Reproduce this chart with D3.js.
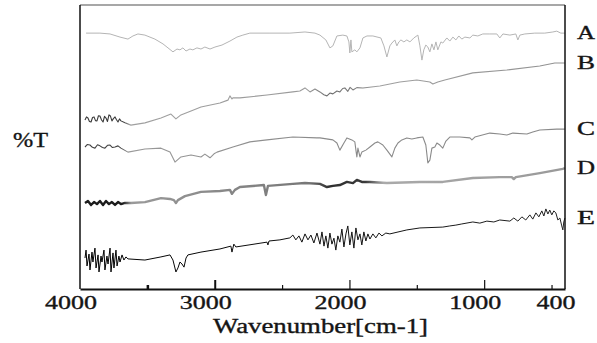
<!DOCTYPE html>
<html>
<head>
<meta charset="utf-8">
<script src="https://cdn.jsdelivr.net/npm/d3@7"></script>
<style>
  body { margin: 0; background: #fff; }
  text { font-family: "Liberation Serif", "DejaVu Serif", serif; fill: #151515; stroke: #151515; stroke-width: 0.35; }
</style>
</head>
<body>
<div id="chart"></div>
<script>
// FTIR spectra, [wavenumber, relative %T]
const specA = [[3955,90.1],[3852,90.1],[3777,89.8],[3703,88.7],[3644,88.0],[3607,89.1],[3570,89.8],[3518,89.4],
  [3444,88.0],[3384,86.3],[3347,84.9],[3310,83.5],[3280,84.5],[3258,84.2],[3236,84.9],[3213,83.8],[3184,84.5],
  [3162,84.2],[3132,84.9],[3102,84.5],[3073,85.2],[3035,84.5],[2998,85.2],[2946,85.9],[2887,87.3],[2835,88.7],
  [2791,89.4],[2739,90.1],[2590,90.1],[2442,90.1],[2330,90.5],[2256,90.1],[2219,89.4],[2175,87.7],[2145,84.9],
  [2123,85.6],[2093,89.1],[2049,89.4],[2019,89.1],[2004,87.0],[1997,83.1],[1989,87.7],[1982,83.5],[1960,84.2],
  [1945,83.5],[1922,84.9],[1900,88.4],[1870,89.1],[1826,89.1],[1767,88.4],[1744,85.6],[1722,81.7],[1700,85.6],
  [1685,86.6],[1663,87.7],[1648,85.6],[1633,87.0],[1618,87.7],[1596,87.0],[1574,87.7],[1551,87.0],[1522,88.4],
  [1492,89.4],[1477,85.6],[1462,80.6],[1448,84.2],[1433,85.9],[1418,85.2],[1403,83.5],[1388,86.3],[1373,84.2],
  [1358,87.0],[1344,84.2],[1321,87.0],[1307,86.6],[1277,88.4],[1255,87.3],[1232,88.7],[1210,87.7],[1188,89.1],
  [1166,88.0],[1143,88.7],[1106,88.4],[1084,89.4],[1047,89.1],[1010,89.8],[958,89.8],[906,89.8],[884,88.4],
  [861,89.8],[809,89.4],[765,89.8],[750,87.7],[735,89.4],[698,89.8],[624,90.1],[550,90.1],[490,90.5],[461,90.8],
  [431,90.1],[401,90.1]];

const specB = [[3963,59.5],[3952,60.6],[3941,60.2],[3930,59.0],[3918,58.8],[3907,60.4],[3896,60.6],[3885,59.3],
  [3874,59.2],[3863,61.0],[3852,60.9],[3840,59.5],[3829,58.8],[3818,60.8],[3807,60.2],[3796,59.0],[3785,61.3],
  [3774,60.9],[3763,59.2],[3752,60.0],[3740,60.6],[3729,59.6],[3718,58.8],[3707,59.9],[3696,59.2],[3666,58.5],
  [3622,57.7],[3518,58.5],[3399,60.2],[3325,61.6],[3288,59.9],[3251,61.3],[3176,62.7],[3102,64.1],[2961,65.5],
  [2902,66.5],[2887,68.0],[2872,66.9],[2865,67.3],[2813,67.3],[2612,68.3],[2420,69.4],[2368,69.7],[2330,70.8],
  [2293,69.4],[2256,70.4],[2219,69.4],[2190,68.4],[2167,68.0],[2145,69.0],[2123,68.7],[2093,69.7],[2071,69.4],
  [2050,70.6],[2034,70.8],[2012,69.6],[1995,71.0],[1974,70.1],[1945,70.9],[1900,70.8],[1774,71.5],[1626,72.9],
  [1500,73.6],[1403,72.9],[1381,72.2],[1344,72.9],[1292,73.6],[1084,76.1],[832,77.1],[587,78.5],[476,79.6],[401,79.6]];

const specC = [[3963,50.0],[3945,50.9],[3926,50.7],[3908,49.9],[3889,49.6],[3870,50.8],[3852,50.4],[3833,49.8],
  [3815,49.6],[3796,50.6],[3777,50.7],[3759,49.8],[3740,50.0],[3718,50.4],[3696,49.6],
  [3644,48.2],[3518,49.3],[3399,49.6],[3332,48.2],[3295,44.7],[3251,46.5],[3176,47.2],[3102,46.5],[3073,47.5],
  [3035,46.2],[3005,47.6],[2983,48.2],[2865,50.0],[2739,51.8],[2612,52.5],[2420,53.5],[2241,53.2],[2219,53.2],
  [2123,52.5],[2093,51.4],[2071,48.9],[2041,51.4],[2019,53.2],[1982,52.5],[1960,51.8],[1952,48.9],[1945,46.5],
  [1937,49.6],[1922,46.5],[1908,48.2],[1878,48.9],[1848,50.0],[1811,51.4],[1789,51.8],[1752,50.7],[1722,48.9],
  [1685,46.5],[1663,49.6],[1640,51.4],[1611,52.5],[1574,53.2],[1537,52.8],[1500,53.2],[1455,53.5],[1433,50.7],
  [1418,44.4],[1403,45.4],[1388,49.6],[1366,50.0],[1351,51.4],[1329,50.7],[1307,49.6],[1284,52.1],[1255,53.5],
  [1181,53.5],[1106,53.2],[1091,52.5],[1069,53.5],[958,54.9],[884,54.6],[832,54.2],[787,54.9],[683,54.6],
  [639,55.3],[587,56.0],[461,56.3],[401,56.3]];

const specD = [[3963,30.3],[3941,31.0],[3918,29.6],[3896,30.6],[3874,29.9],[3852,31.0],[3829,29.6],[3807,31.0],
  [3785,29.9],[3763,30.6],[3740,29.6],[3718,30.6],[3696,29.9],[3666,30.3],[3622,30.3],[3518,30.6],[3399,32.0],
  [3332,31.7],[3303,31.3],[3288,30.3],[3273,31.3],[3221,32.7],[3102,34.2],[2961,34.5],[2887,34.9],[2872,33.5],
  [2850,34.9],[2813,35.9],[2635,36.6],[2620,33.1],[2605,36.3],[2420,37.0],[2330,37.3],[2219,37.0],[2167,35.9],
  [2123,36.3],[2071,36.6],[2019,37.7],[1974,37.3],[1945,38.4],[1908,37.7],[1848,37.7],[1722,37.3],[1477,37.7],
  [1307,37.7],[1084,39.1],[884,39.4],[795,39.4],[780,38.7],[765,39.4],[587,40.8],[416,42.3],[401,42.6]];

const specE = [[3963,10.9],[3955,13.7],[3948,8.1],[3933,12.3],[3926,6.7],[3911,13.0],[3904,9.5],[3889,14.4],
  [3881,7.4],[3866,12.0],[3859,6.0],[3844,11.6],[3837,9.5],[3822,13.7],[3815,6.7],[3800,11.6],[3792,8.8],
  [3777,14.4],[3770,6.0],[3755,12.7],[3748,7.4],[3733,13.7],[3725,8.1],[3711,11.6],[3703,9.5],[3688,12.0],
  [3674,10.2],[3659,11.3],[3644,10.6],[3518,10.2],[3399,11.3],[3332,12.0],[3310,10.2],[3288,6.0],[3273,7.4],
  [3258,9.5],[3243,8.8],[3228,7.7],[3213,10.9],[3199,12.0],[3102,13.0],[2961,14.1],[2880,15.1],[2872,13.0],
  [2858,15.8],[2843,14.8],[2612,16.5],[2605,15.5],[2597,16.9],[2516,17.3],[2442,18.0],[2420,19.0],[2398,17.3],
  [2375,18.7],[2353,16.5],[2330,19.4],[2308,17.3],[2286,19.0],[2264,16.2],[2241,19.7],[2219,15.8],[2204,20.1],
  [2189,15.1],[2175,18.7],[2160,14.4],[2145,19.7],[2130,15.8],[2115,17.9],[2101,13.7],[2086,18.7],[2071,16.5],
  [2056,21.1],[2041,14.8],[2026,19.4],[2012,22.2],[1997,15.5],[1982,20.1],[1967,14.4],[1952,21.5],[1937,17.3],
  [1922,19.4],[1908,15.5],[1893,20.1],[1878,16.9],[1863,19.4],[1848,17.6],[1826,19.4],[1804,18.0],[1781,19.7],
  [1759,18.7],[1730,19.7],[1700,19.4],[1574,20.8],[1477,21.5],[1307,21.8],[1255,22.2],[1210,22.5],[1166,22.9],
  [1084,23.6],[1032,23.2],[980,23.9],[928,23.6],[884,24.3],[809,23.9],[780,25.0],[750,23.9],[720,25.4],[691,24.3],
  [661,26.1],[639,24.6],[616,26.8],[594,25.4],[572,27.5],[557,25.7],[542,28.2],[527,26.4],[513,27.8],[498,26.1],
  [483,27.5],[468,26.8],[453,24.3],[438,25.0],[424,22.2],[416,20.8],[409,23.6],[401,25.0]];

const sampleNames = ["A", "B", "C", "D", "E"];
const majorTicks = [4000, 3000, 2000, 1000, 400];
const minorTicks = [3500, 3000, 2500, 2000, 1500, 1000, 500];

const width = 597, height = 343;
const margin = { top: 5, right: 32, bottom: 54, left: 80 };
const w = width - margin.left - margin.right;
const h = height - margin.top - margin.bottom;

const svg = d3.select('#chart').append('svg')
  .attr('width', width)
  .attr('height', height);

const x = d3.scaleLinear().domain([4000, 400]).range([0, w]);
const y = d3.scaleLinear().domain([0, 100]).range([h, 0]);

const defs = svg.append('defs');
defs.append('filter').attr('id', 'soft')
  .attr('x', '-5%').attr('y', '-50%').attr('width', '110%').attr('height', '200%')
  .append('feGaussianBlur').attr('stdDeviation', 0.7);

// trace shading along wavenumber: [wavenumber, colour]
const shades = {
  A: [[4000, '#b4b4b4'], [400, '#b4b4b4']],
  B: [[4000, '#3a3a3a'], [3680, '#3a3a3a'], [3630, '#a0a0a0'], [2300, '#9a9a9a'], [2150, '#6a6a6a'],
      [1950, '#808080'], [1800, '#a0a0a0'], [400, '#909090']],
  C: [[4000, '#444'], [3700, '#444'], [3640, '#999'], [2200, '#8a8a8a'], [400, '#8a8a8a']],
  D: [[4000, '#1e1e1e'], [3680, '#1e1e1e'], [3620, '#9a9a9a'], [2300, '#777'], [2150, '#2e2e2e'],
      [1880, '#3a3a3a'], [1750, '#aaa'], [400, '#999']],
  E: [[4000, '#000'], [400, '#222']]
};

Object.keys(shades).forEach(k => {
  const grad = defs.append('linearGradient')
    .attr('id', 'shade' + k)
    .attr('gradientUnits', 'userSpaceOnUse')
    .attr('x1', x(4000)).attr('x2', x(400)).attr('y1', 0).attr('y2', 0);
  grad.selectAll('stop')
    .data(shades[k])
    .enter()
    .append('stop')
    .attr('offset', d => (x(d[0]) / w))
    .attr('stop-color', d => d[1]);
});

const g = svg.append('g')
  .attr('transform', 'translate(' + margin.left + ',' + margin.top + ')');

const line = d3.line()
  .x(d => x(d[0]))
  .y(d => y(d[1]));

const series = [
  { name: 'A', data: specA, width: 1 },
  { name: 'B', data: specB, width: 1.1 },
  { name: 'C', data: specC, width: 1.1 },
  { name: 'D', data: specD, width: 2.4, filter: 'url(#soft)' },
  { name: 'E', data: specE, width: 1 }
];

series.forEach(s => {
  g.append('path')
    .datum(s.data)
    .attr('fill', 'none')
    .attr('stroke', 'url(#shade' + s.name + ')')
    .attr('stroke-width', s.width)
    .attr('stroke-linejoin', 'round')
    .attr('filter', s.filter || null)
    .attr('d', line);
});

// frame
g.append('line').attr('x1', 0).attr('x2', w).attr('y1', 0).attr('y2', 0)
  .attr('stroke', '#8a8a8a').attr('stroke-width', 1.5);
g.append('line').attr('x1', 0).attr('x2', 0).attr('y1', 0).attr('y2', h)
  .attr('stroke', '#111').attr('stroke-width', 1.5);
g.append('line').attr('x1', w).attr('x2', w).attr('y1', 0).attr('y2', h)
  .attr('stroke', '#111').attr('stroke-width', 1.5);

// bottom axis, ticks pointing inward
const axis = g.append('g')
  .attr('class', 'x axis')
  .attr('transform', `translate(0,${h})`)
  .call(d3.axisBottom(x).tickValues(minorTicks)
    .tickSizeInner(0).tickSizeOuter(0).tickFormat(''));
axis.select('.domain').attr('stroke', '#111').attr('stroke-width', 2);
axis.selectAll('.tick line')
  .attr('y2', d => d % 1000 === 0 ? -9 : -4)
  .attr('stroke', '#111')
  .attr('stroke-width', d => d === 3500 ? 2.5 : (d === 3000 ? 2 : 1.2));

// tick labels
g.selectAll('.tlabel')
  .data(majorTicks)
  .enter()
  .append('text')
  .attr('class', 'tlabel')
  .attr('x', d => x(d) - 9)
  .attr('y', h + 20)
  .attr('text-anchor', 'middle')
  .attr('font-size', 19)
  .attr('textLength', d => String(d).length * 13)
  .attr('lengthAdjust', 'spacingAndGlyphs')
  .text(d => d);

g.append('text')
  .attr('x', 133)
  .attr('y', h + 44)
  .attr('font-size', 20)
  .attr('textLength', 215)
  .attr('lengthAdjust', 'spacingAndGlyphs')
  .text('Wavenumber[cm-1]');

svg.append('text')
  .attr('x', 13)
  .attr('y', 147)
  .attr('font-size', 20)
  .attr('textLength', 35)
  .attr('lengthAdjust', 'spacingAndGlyphs')
  .text('%T');

// sample labels at the end of each trace
g.selectAll('.slabel')
  .data(series)
  .enter()
  .append('text')
  .attr('class', 'slabel')
  .attr('x', w + 12)
  .attr('y', d => y(d.data[d.data.length - 1][1]) + 6)
  .attr('font-size', 18)
  .attr('textLength', 18)
  .attr('lengthAdjust', 'spacingAndGlyphs')
  .text((d, i) => sampleNames[i]);
</script>
</body>
</html>
